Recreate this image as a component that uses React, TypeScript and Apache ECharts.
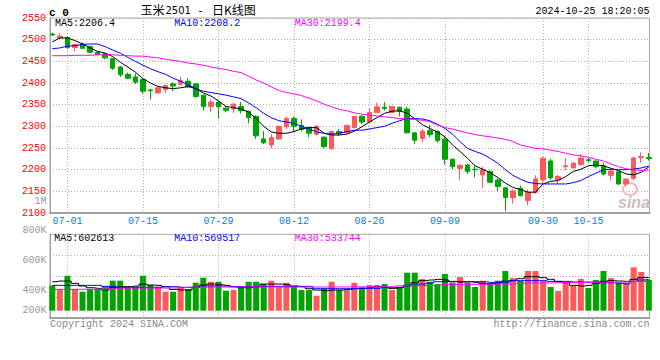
import React, { useEffect, useRef } from 'react';
import * as echarts from 'echarts';

const MONO = '"Liberation Mono", "DejaVu Sans Mono", monospace';
const RED = '#fa5a5a';
const GREEN = '#00a400';

const dates = [
  '06-27', '06-28',
  '07-01', '07-02', '07-03', '07-04', '07-05', '07-08', '07-09', '07-10', '07-11', '07-12',
  '07-15', '07-16', '07-17', '07-18', '07-19', '07-22', '07-23', '07-24', '07-25', '07-26',
  '07-29', '07-30', '07-31',
  '08-01', '08-02', '08-05', '08-06', '08-07', '08-08', '08-09', '08-12', '08-13', '08-14',
  '08-15', '08-16', '08-19', '08-20', '08-21', '08-22', '08-23', '08-26', '08-27', '08-28',
  '08-29', '08-30',
  '09-02', '09-03', '09-04', '09-05', '09-06', '09-09', '09-10', '09-11', '09-12', '09-13',
  '09-18', '09-19', '09-20', '09-23', '09-24', '09-25', '09-26', '09-27', '09-30',
  '10-08', '10-09', '10-10', '10-11', '10-14', '10-15', '10-16', '10-17', '10-18',
  '10-21', '10-22', '10-23', '10-24', '10-25',
];

const labelDates = ['07-01', '07-15', '07-29', '08-12', '08-26', '09-09', '09-30', '10-15'];

// [open, close, low, high]
const candles = [
  [2513, 2511, 2509, 2516], [2504, 2508, 2501, 2515], [2505, 2482, 2479, 2508], [2482, 2489, 2473, 2490],
  [2490, 2480, 2479, 2494], [2484, 2471, 2469, 2486], [2471, 2466, 2464, 2473], [2467, 2458, 2455, 2469],
  [2456, 2434, 2430, 2458], [2437, 2419, 2414, 2439], [2420, 2411, 2409, 2424], [2414, 2402, 2398, 2422],
  [2408, 2381, 2375, 2410], [2384, 2382, 2362, 2387], [2377, 2389, 2376, 2390], [2385, 2394, 2377, 2395],
  [2398, 2393, 2381, 2402], [2397, 2406, 2394, 2414], [2404, 2391, 2389, 2411], [2398, 2369, 2366, 2400],
  [2372, 2346, 2336, 2373], [2346, 2356, 2333, 2363], [2356, 2345, 2318, 2357], [2342, 2337, 2333, 2346],
  [2340, 2351, 2331, 2354], [2346, 2336, 2330, 2356], [2335, 2320, 2307, 2336], [2323, 2278, 2271, 2325],
  [2271, 2262, 2259, 2289], [2257, 2274, 2249, 2282], [2271, 2300, 2269, 2301], [2299, 2318, 2294, 2322],
  [2318, 2300, 2287, 2323], [2302, 2293, 2288, 2316], [2297, 2284, 2275, 2299], [2282, 2300, 2279, 2303],
  [2275, 2253, 2250, 2277], [2248, 2288, 2248, 2290], [2288, 2283, 2278, 2294], [2285, 2302, 2284, 2304],
  [2297, 2323, 2295, 2324], [2323, 2310, 2305, 2326], [2310, 2332, 2308, 2341], [2332, 2345, 2331, 2354],
  [2344, 2341, 2337, 2356], [2332, 2346, 2331, 2347], [2344, 2334, 2323, 2346], [2340, 2285, 2284, 2345],
  [2285, 2268, 2259, 2287], [2272, 2289, 2264, 2294], [2290, 2281, 2275, 2303], [2288, 2267, 2262, 2291],
  [2270, 2224, 2212, 2278], [2224, 2207, 2201, 2226], [2203, 2210, 2175, 2212], [2211, 2196, 2190, 2213],
  [2201, 2200, 2182, 2209], [2188, 2200, 2158, 2207], [2196, 2171, 2169, 2198], [2176, 2161, 2151, 2180],
  [2158, 2136, 2104, 2160], [2135, 2151, 2122, 2155], [2157, 2140, 2138, 2163], [2129, 2148, 2118, 2154],
  [2148, 2179, 2144, 2187], [2177, 2226, 2169, 2230], [2220, 2181, 2177, 2225], [2177, 2184, 2167, 2188],
  [2207, 2209, 2199, 2227], [2204, 2215, 2203, 2218], [2212, 2227, 2209, 2236], [2223, 2221, 2216, 2227],
  [2220, 2207, 2203, 2221], [2209, 2190, 2187, 2216], [2187, 2197, 2175, 2201], [2195, 2167, 2165, 2197],
  [2167, 2178, 2161, 2180], [2180, 2227, 2175, 2230], [2228, 2230, 2216, 2240], [2228, 2226, 2221, 2238],
];

const ma5 = [
  2495, 2504, 2504, 2498, 2490, 2481, 2473, 2469, 2461, 2448,
  2437, 2425, 2410, 2400, 2392, 2389, 2387, 2389, 2392, 2387,
  2377, 2370, 2359, 2346, 2343, 2340, 2333, 2318, 2300, 2287,
  2284, 2284, 2288, 2294, 2297, 2297, 2284, 2280, 2280, 2282,
  2289, 2299, 2310, 2320, 2330, 2335, 2336, 2330, 2318, 2304,
  2295, 2287, 2276, 2257, 2242, 2226, 2209, 2201, 2193, 2182,
  2169, 2159, 2154, 2148, 2148, 2167, 2173, 2175, 2184, 2196,
  2201, 2209, 2211, 2209, 2203, 2198, 2190, 2188, 2194, 2206.4,
];
const ma10 = [
  2479, 2481, 2485, 2486, 2489, 2490, 2490, 2484, 2476, 2469,
  2459, 2450, 2441, 2433, 2426, 2420, 2411, 2404, 2396, 2387,
  2381, 2378, 2375, 2372, 2368, 2364, 2354, 2343, 2330, 2320,
  2313, 2310, 2307, 2300, 2294, 2287, 2284, 2282, 2284, 2288,
  2291, 2291, 2294, 2297, 2300, 2307, 2313, 2318, 2318, 2317,
  2313, 2305, 2295, 2282, 2265, 2249, 2242, 2236, 2226, 2215,
  2200, 2187, 2178, 2171, 2168, 2167, 2167, 2167, 2167, 2170,
  2175, 2184, 2192, 2200, 2201, 2200, 2200, 2201, 2204, 2208.2,
];
const ma30 = [
  2463, 2463, 2463, 2464, 2464, 2464, 2465, 2465, 2465, 2464,
  2463, 2462, 2462, 2460, 2458, 2455, 2452, 2450, 2446, 2444,
  2441, 2437, 2434, 2431, 2427, 2424, 2416, 2407, 2400, 2391,
  2383, 2378, 2375, 2371, 2365, 2359, 2351, 2345, 2339, 2336,
  2331, 2328, 2326, 2324, 2322, 2320, 2318, 2317, 2316, 2314,
  2311, 2303, 2297, 2294, 2289, 2285, 2281, 2278, 2276, 2273,
  2270, 2265, 2257, 2253, 2249, 2248, 2245, 2242, 2238, 2234,
  2232, 2228, 2224, 2220, 2213, 2207, 2202, 2200, 2198, 2199.4,
];

// volume, thousands
const volume = [
  454, 393, 635, 393, 345, 393, 393, 436, 545, 545,
  436, 436, 635, 466, 436, 345, 345, 436, 393, 508,
  599, 526, 526, 363, 375, 436, 526, 526, 484, 545,
  436, 508, 436, 375, 375, 272, 405, 526, 375, 375,
  508, 424, 466, 466, 484, 375, 424, 690, 690, 575,
  526, 484, 666, 508, 611, 508, 430, 545, 496, 545,
  720, 593, 545, 720, 720, 545, 430, 357, 526, 448,
  575, 411, 557, 720, 593, 508, 508, 787, 702, 557,
];
const volMa5 = [
  526, 538, 538, 496, 448, 417, 405, 375, 424, 436,
  436, 448, 484, 466, 460, 436, 387, 375, 375, 424,
  466, 484, 472, 460, 436, 417, 417, 436, 484, 484,
  484, 472, 448, 436, 399, 375, 363, 375, 375, 387,
  399, 405, 417, 436, 424, 405, 417, 460, 508, 545,
  557, 569, 557, 532, 520, 526, 514, 496, 496, 508,
  538, 545, 581, 617, 617, 599, 569, 532, 508, 460,
  448, 460, 496, 532, 545, 538, 532, 569, 599, 602.613,
];
const volMa10 = [
  460, 460, 460, 460, 460, 460, 460, 442, 442, 424,
  424, 424, 424, 424, 424, 436, 436, 424, 424, 424,
  448, 448, 448, 448, 436, 436, 436, 436, 442, 442,
  442, 442, 442, 442, 442, 399, 399, 399, 399, 399,
  405, 405, 405, 405, 424, 424, 424, 448, 466, 484,
  502, 526, 526, 526, 526, 526, 526, 526, 514, 514,
  514, 545, 545, 545, 545, 545, 532, 532, 532, 520,
  520, 520, 508, 508, 508, 496, 484, 532, 557, 569.517,
];
const volMa30 = [
  386, 387, 387, 388, 389, 389, 390, 391, 405, 408,
  409, 410, 410, 411, 412, 412, 413, 414, 426, 427,
  428, 428, 429, 430, 430, 431, 431, 432, 432, 432,
  431, 431, 430, 430, 429, 429, 430, 430, 431, 431,
  432, 432, 433, 433, 434, 434, 450, 452, 454, 456,
  458, 460, 474, 476, 477, 478, 479, 480, 481, 482,
  483, 484, 498, 500, 502, 503, 505, 510, 512, 513,
  514, 514, 515, 516, 517, 519, 521, 528, 531, 533.744,
];

const priceLegend = ['MA5:2206.4', 'MA10:2208.2', 'MA30:2199.4'];
const volLegend = ['MA5:602613', 'MA10:569517', 'MA30:533744'];
const volTickLabels = ['800K', '600K', '400K', '200K'];

export default function App() {
  const ref = useRef<HTMLDivElement>(null);
  useEffect(() => {
    if (!ref.current) return;
    const chart = echarts.init(ref.current, undefined, { renderer: 'svg' });
    const showDate = (i: number) => labelDates.includes(dates[i]);
    const dotted = { color: '#b0b0b0', type: [1, 2] as any, width: 1 };
    const frameX = (gi: number) => ({
      gridIndex: gi, type: 'value', min: 0, max: 1,
      axisLine: { show: true, onZero: false, lineStyle: { color: '#a0a0a0', width: 2 } },
      axisTick: { show: false }, axisLabel: { show: false }, splitLine: { show: false },
    });
    const dataX = (gi: number, labels: boolean) => ({
      gridIndex: gi, type: 'category', data: dates, boundaryGap: false,
      axisLine: { show: false, onZero: false }, axisTick: { show: false },
      axisLabel: {
        show: labels, interval: (i: number) => showDate(i), color: '#0a80d8',
        fontFamily: MONO, fontSize: 10, margin: 3,
      },
      splitLine: { show: true, interval: (i: number) => showDate(i), lineStyle: dotted },
    });
    const txt = (x: number, y: number, text: string, fill: string, extra: any = {}) => ({
      type: 'text', x, y, silent: true,
      style: { text, fill, font: `10px ${MONO}`, textAlign: 'left', textVerticalAlign: 'middle', ...extra },
    });
    const volColors = candles.map((c) => (c[1] >= c[0] ? RED : GREEN));
    const option: any = {
      animation: false,
      grid: [
        { left: 50, right: 10.5, top: 18, bottom: 147, show: true, borderColor: '#a8a8a8', borderWidth: 1 },
        { left: 52.3, right: 11.2, top: 18, bottom: 147 },
        { left: 50, right: 10.5, top: 234.3, bottom: 42.3, show: true, borderColor: '#a8a8a8', borderWidth: 1 },
        { left: 52.3, right: 11.2, top: 234.3, bottom: 42.3 },
      ],
      xAxis: [frameX(0), dataX(1, true), frameX(2), dataX(3, false)],
      yAxis: [
        {
          gridIndex: 0, type: 'value', min: 2100, max: 2550, interval: 50,
          axisLine: { show: true, lineStyle: { color: '#a0a0a0', width: 1 } }, axisTick: { show: false },
          axisLabel: { color: '#ff0000', fontFamily: MONO, fontSize: 10, margin: 4, formatter: (v: number) => String(v) },
          splitLine: { show: true, lineStyle: dotted },
        },
        { gridIndex: 1, type: 'value', min: 2100, max: 2550, show: false },
        {
          gridIndex: 2, type: 'value', min: 0, max: 4, interval: 1,
          axisLine: { show: true, lineStyle: { color: '#a0a0a0', width: 1 } }, axisTick: { show: false },
          axisLabel: { show: false }, splitLine: { show: true, lineStyle: dotted },
        },
        { gridIndex: 3, type: 'value', min: -127.05, max: 1386.66, show: false },
      ],
      series: [
        {
          type: 'candlestick', xAxisIndex: 1, yAxisIndex: 1, data: candles, barWidth: 5,
          itemStyle: { color: RED, color0: GREEN, borderColor: RED, borderColor0: GREEN, borderWidth: 1 },
        },
        { type: 'line', xAxisIndex: 1, yAxisIndex: 1, data: ma5, symbol: 'none', lineStyle: { color: '#000', width: 1 } },
        { type: 'line', xAxisIndex: 1, yAxisIndex: 1, data: ma10, symbol: 'none', lineStyle: { color: '#0000ff', width: 1 } },
        { type: 'line', xAxisIndex: 1, yAxisIndex: 1, data: ma30, symbol: 'none', lineStyle: { color: '#ff00ff', width: 1 } },
        {
          type: 'bar', xAxisIndex: 3, yAxisIndex: 3, barWidth: 6,
          data: volume.map((v, i) => ({ value: v, itemStyle: { color: volColors[i] } })),
        },
        { type: 'line', xAxisIndex: 3, yAxisIndex: 3, data: volMa5, symbol: 'none', step: 'middle', lineStyle: { color: '#000', width: 1 } },
        { type: 'line', xAxisIndex: 3, yAxisIndex: 3, data: volMa10, symbol: 'none', step: 'middle', lineStyle: { color: '#0000ff', width: 1 } },
        { type: 'line', xAxisIndex: 3, yAxisIndex: 3, data: volMa30, symbol: 'none', step: 'middle', lineStyle: { color: '#ff00ff', width: 1 } },
      ],
      graphic: [
        txt(49, 12.5, 'c 0', '#000', { font: `bold 11px ${MONO}` }),
        txt(140.5, 9.5, '玉米', '#000', { font: '12px "Noto Sans CJK SC"' }),
        txt(165.5, 10, '2501', '#000', { font: '10px "DejaVu Sans"' }),
        txt(198.5, 9.5, '-', '#000', { font: '12px "Noto Sans CJK SC"' }),
        txt(212, 9.5, '日K线图', '#000', { font: '12px "Noto Sans CJK SC"' }),
        txt(649.5, 11.8, '2024-10-25 18:20:05', '#000', { textAlign: 'right' }),
        txt(55, 23.7, priceLegend[0], '#000'),
        txt(174.3, 23.7, priceLegend[1], '#0000ff'),
        txt(294.7, 23.7, priceLegend[2], '#ff00ff'),
        txt(46.5, 201, '1M', '#999', { textAlign: 'right' }),
        txt(54.3, 238.5, volLegend[0], '#000'),
        txt(174.3, 238.5, volLegend[1], '#0000ff'),
        txt(294.7, 238.5, volLegend[2], '#ff00ff'),
        txt(46.5, 230.7, volTickLabels[0], '#999', { textAlign: 'right' }),
        txt(46.5, 260.7, volTickLabels[1], '#999', { textAlign: 'right' }),
        txt(46.5, 290, volTickLabels[2], '#999', { textAlign: 'right' }),
        txt(46.5, 310, volTickLabels[3], '#999', { textAlign: 'right' }),
        txt(50, 324, 'Copyright 2024 SINA.COM', '#888'),
        txt(649.5, 324, 'http://finance.sina.com.cn', '#888', { textAlign: 'right' }),
        {
          type: 'ellipse', silent: true, shape: { cx: 630, cy: 189, rx: 7, ry: 6 },
          style: { fill: 'none', stroke: '#f2b8b8', lineWidth: 2 },
        },
        txt(634, 202, 'sina', '#cbbcbc', { font: 'italic bold 16px "Liberation Sans"', textAlign: 'center' }),
      ],
    };
    chart.setOption(option);
    return () => chart.dispose();
  }, []);
  return <div ref={ref} style={{ position: 'fixed', left: 0, top: 0, width: 660, height: 360, background: '#fff' }} />;
}
